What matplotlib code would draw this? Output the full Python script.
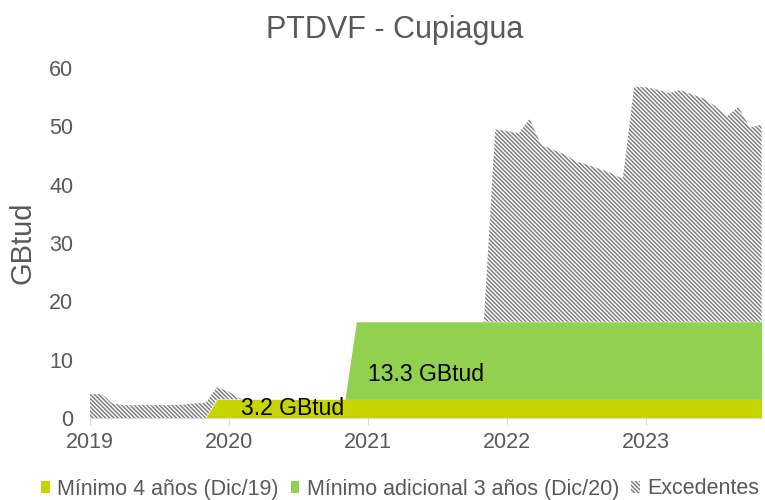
import numpy as np
import pandas as pd
import matplotlib
matplotlib.use('Agg')
import matplotlib.pyplot as plt
import matplotlib.dates as mdates
from matplotlib.patches import Patch

plt.rcParams['font.family'] = ['Liberation Sans', 'DejaVu Sans']
plt.rcParams['hatch.linewidth'] = 1.1
plt.rcParams['hatch.color'] = '#808080'

# monthly, Jan 2019 .. Nov 2023
fechas = pd.date_range('2019-01-01', '2023-11-01', freq='MS')

# minimum 4 years (from Dec/19)
minimo4 = [0]*11 + [3.2]*48
# additional minimum 3 years (from Dec/20)
adicional3 = [0]*23 + [13.3]*36
# total offered
total = [4.1, 4.1, 2.5, 2.2, 2.2, 2.2, 2.2, 2.2, 2.3, 2.5, 2.6, 5.3,
         4.5, 3.3] + [3.2]*9 + [16.5]*12 + \
        [49.5, 49.2, 48.8, 51.3, 46.8, 46.0, 45.2, 44.0, 43.4, 42.7, 42.0, 41.0,
         56.8, 56.7, 56.3, 55.7, 56.2, 55.5, 54.8, 53.5, 51.7, 53.3, 49.8, 50.3]

minimo4 = np.array(minimo4)
adicional3 = np.array(adicional3)
excedentes = np.clip(np.array(total) - minimo4 - adicional3, 0, None)

amarillo = '#c8d400'
verde = '#92d050'
gris = '#595959'
rayas = '\\' * 8

fig = plt.figure(figsize=(7.65, 5), dpi=100)
ax = fig.add_axes([0.1176, 0.164, 0.878, 0.70])

ax.fill_between(fechas, 0, minimo4, color=amarillo, lw=0)
ax.fill_between(fechas, minimo4, minimo4 + adicional3, color=verde, lw=0)
ax.fill_between(fechas, minimo4 + adicional3, minimo4 + adicional3 + excedentes,
                facecolor='white', edgecolor='#808080', hatch=rayas, lw=0)

ax.text(pd.Timestamp('2020-02-01'), 1.7, '3.2 GBtud', fontsize=16.5, va='center', color='black')
ax.text(pd.Timestamp('2021-01-01'), 7.4, '13.3 GBtud', fontsize=16.5, va='center', color='black')

ax.set_xlim(fechas[0], fechas[-1])
ax.set_ylim(0, 60)
ax.set_yticks(range(0, 61, 10))
ax.xaxis.set_major_locator(mdates.YearLocator())
ax.xaxis.set_major_formatter(mdates.DateFormatter('%Y'))
ax.tick_params(axis='y', length=0, labelsize=15.5, labelcolor=gris, pad=12)
ax.tick_params(axis='x', length=5, color='#d9d9d9', labelsize=15.5, labelcolor=gris, pad=5)
for s in ['top', 'right', 'left']:
    ax.spines[s].set_visible(False)
ax.spines['bottom'].set_color('#d9d9d9')
ax.set_ylabel('GBtud', fontsize=21, color=gris)
ax.yaxis.set_label_coords(-0.08, 0.5)

fig.suptitle('PTDVF - Cupiagua', fontsize=22, color=gris, x=0.516, y=0.97)

handles = [Patch(facecolor=amarillo, lw=0),
           Patch(facecolor=verde, lw=0),
           Patch(facecolor='white', edgecolor='#808080', hatch=rayas, lw=0)]
labels = ['Mínimo 4 años (Dic/19)', 'Mínimo adicional 3 años (Dic/20)', 'Excedentes']
fig.legend(handles, labels, loc='center', bbox_to_anchor=(0.523, 0.022), ncol=3,
           frameon=False, fontsize=15.5, labelcolor=gris, handlelength=0.4, handleheight=0.45,
           handletextpad=0.35, columnspacing=0.55, borderpad=0, borderaxespad=0)

fig.savefig('out.png', dpi=100)
